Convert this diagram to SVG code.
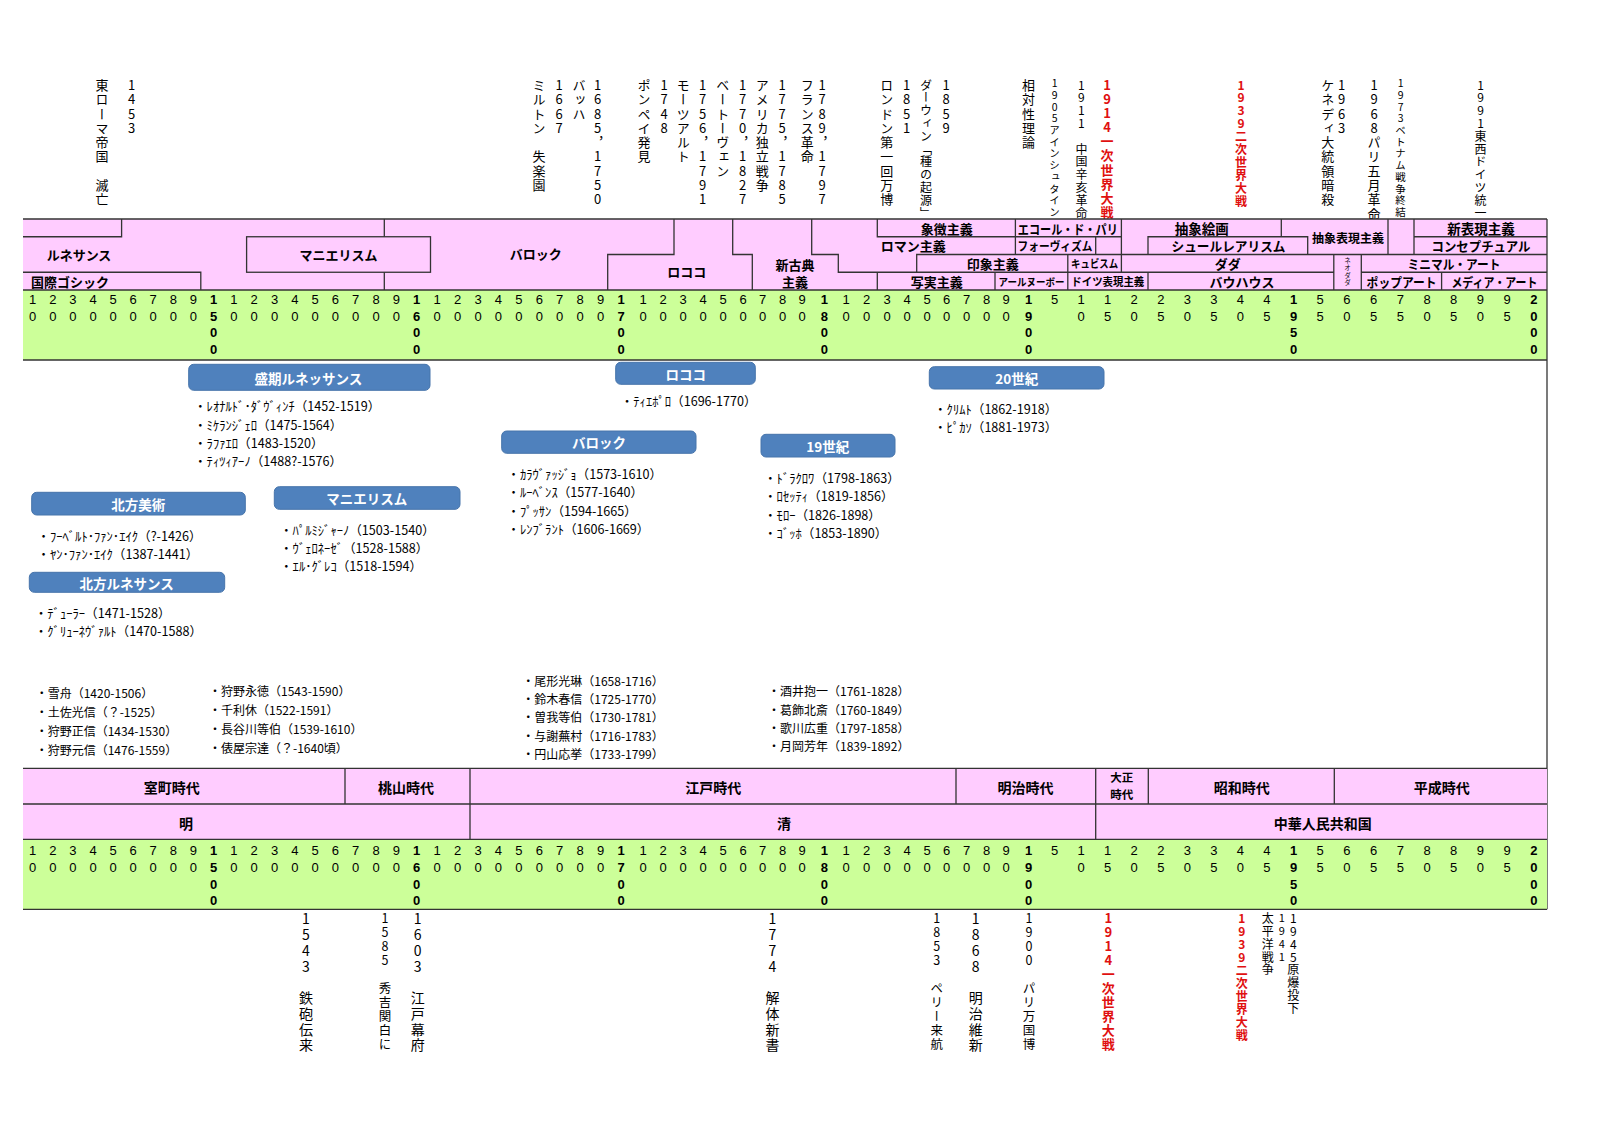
<svg xmlns="http://www.w3.org/2000/svg" xmlns:xlink="http://www.w3.org/1999/xlink" width="1600" height="1131" viewBox="0 0 1600 1131">
<style>
.jp{font-family:"Noto Sans CJK JP","Noto Sans",sans-serif}
.lb{font-family:"Noto Sans CJK JP",sans-serif;font-weight:700;font-size:13px;text-anchor:middle;dominant-baseline:central;fill:#000}
.lb14{font-size:14px}
.tk{font-family:"Liberation Sans",Arial,sans-serif;font-size:13px;text-anchor:middle;dominant-baseline:central;fill:#000}
.tb{font-weight:700}
.v{font-family:"Noto Sans CJK JP",sans-serif;writing-mode:vertical-rl;text-orientation:upright;fill:#000}
.v13{font-size:13px;letter-spacing:1.3px}
.v12{font-size:12px;letter-spacing:0.8px}
.v12b{font-size:12px;letter-spacing:0.9px}
.v10{font-size:10.5px;letter-spacing:1.2px}
.v14{font-size:14px;letter-spacing:1.75px}
.v125{font-size:12.5px;letter-spacing:1.5px}
.red{fill:#e01010;font-weight:700}
.bx{fill:#4f81bd;stroke:#4674ab;stroke-width:1}
.bt{font-family:"Noto Sans CJK JP",sans-serif;font-weight:700;font-size:13.5px;fill:#fff;text-anchor:middle;dominant-baseline:central}
.it{font-family:"Noto Sans CJK JP",sans-serif;font-size:12px;dominant-baseline:central;fill:#000}
.hk{font-size:12.6px}
.ln{stroke:#333;stroke-width:1.3;fill:none}
.pk{fill:#ffccff}
.gr{fill:#ccff99}
</style>
<defs>
<g id="tickcols" class="tk">
<text x="32.7" y="0">1<tspan x="32.7" dy="16.6">0</tspan></text>
<text x="52.8" y="0">2<tspan x="52.8" dy="16.6">0</tspan></text>
<text x="72.9" y="0">3<tspan x="72.9" dy="16.6">0</tspan></text>
<text x="93" y="0">4<tspan x="93" dy="16.6">0</tspan></text>
<text x="113.1" y="0">5<tspan x="113.1" dy="16.6">0</tspan></text>
<text x="133.2" y="0">6<tspan x="133.2" dy="16.6">0</tspan></text>
<text x="153.2" y="0">7<tspan x="153.2" dy="16.6">0</tspan></text>
<text x="173.3" y="0">8<tspan x="173.3" dy="16.6">0</tspan></text>
<text x="193.4" y="0">9<tspan x="193.4" dy="16.6">0</tspan></text>
<text class="tb" x="213.5" y="0">1<tspan x="213.5" dy="16.6">5</tspan><tspan x="213.5" dy="16.6">0</tspan><tspan x="213.5" dy="16.6">0</tspan></text>
<text x="233.8" y="0">1<tspan x="233.8" dy="16.6">0</tspan></text>
<text x="254.1" y="0">2<tspan x="254.1" dy="16.6">0</tspan></text>
<text x="274.5" y="0">3<tspan x="274.5" dy="16.6">0</tspan></text>
<text x="294.8" y="0">4<tspan x="294.8" dy="16.6">0</tspan></text>
<text x="315.1" y="0">5<tspan x="315.1" dy="16.6">0</tspan></text>
<text x="335.4" y="0">6<tspan x="335.4" dy="16.6">0</tspan></text>
<text x="355.7" y="0">7<tspan x="355.7" dy="16.6">0</tspan></text>
<text x="376.1" y="0">8<tspan x="376.1" dy="16.6">0</tspan></text>
<text x="396.4" y="0">9<tspan x="396.4" dy="16.6">0</tspan></text>
<text class="tb" x="416.7" y="0">1<tspan x="416.7" dy="16.6">6</tspan><tspan x="416.7" dy="16.6">0</tspan><tspan x="416.7" dy="16.6">0</tspan></text>
<text x="437.1" y="0">1<tspan x="437.1" dy="16.6">0</tspan></text>
<text x="457.6" y="0">2<tspan x="457.6" dy="16.6">0</tspan></text>
<text x="478" y="0">3<tspan x="478" dy="16.6">0</tspan></text>
<text x="498.4" y="0">4<tspan x="498.4" dy="16.6">0</tspan></text>
<text x="518.9" y="0">5<tspan x="518.9" dy="16.6">0</tspan></text>
<text x="539.3" y="0">6<tspan x="539.3" dy="16.6">0</tspan></text>
<text x="559.7" y="0">7<tspan x="559.7" dy="16.6">0</tspan></text>
<text x="580.1" y="0">8<tspan x="580.1" dy="16.6">0</tspan></text>
<text x="600.6" y="0">9<tspan x="600.6" dy="16.6">0</tspan></text>
<text class="tb" x="621" y="0">1<tspan x="621" dy="16.6">7</tspan><tspan x="621" dy="16.6">0</tspan><tspan x="621" dy="16.6">0</tspan></text>
<text x="643" y="0">1<tspan x="643" dy="16.6">0</tspan></text>
<text x="663" y="0">2<tspan x="663" dy="16.6">0</tspan></text>
<text x="683" y="0">3<tspan x="683" dy="16.6">0</tspan></text>
<text x="703" y="0">4<tspan x="703" dy="16.6">0</tspan></text>
<text x="723" y="0">5<tspan x="723" dy="16.6">0</tspan></text>
<text x="743" y="0">6<tspan x="743" dy="16.6">0</tspan></text>
<text x="762.5" y="0">7<tspan x="762.5" dy="16.6">0</tspan></text>
<text x="782.5" y="0">8<tspan x="782.5" dy="16.6">0</tspan></text>
<text x="802" y="0">9<tspan x="802" dy="16.6">0</tspan></text>
<text class="tb" x="824.3" y="0">1<tspan x="824.3" dy="16.6">8</tspan><tspan x="824.3" dy="16.6">0</tspan><tspan x="824.3" dy="16.6">0</tspan></text>
<text x="846" y="0">1<tspan x="846" dy="16.6">0</tspan></text>
<text x="866.5" y="0">2<tspan x="866.5" dy="16.6">0</tspan></text>
<text x="887" y="0">3<tspan x="887" dy="16.6">0</tspan></text>
<text x="907" y="0">4<tspan x="907" dy="16.6">0</tspan></text>
<text x="927" y="0">5<tspan x="927" dy="16.6">0</tspan></text>
<text x="946.5" y="0">6<tspan x="946.5" dy="16.6">0</tspan></text>
<text x="966.5" y="0">7<tspan x="966.5" dy="16.6">0</tspan></text>
<text x="986.5" y="0">8<tspan x="986.5" dy="16.6">0</tspan></text>
<text x="1006" y="0">9<tspan x="1006" dy="16.6">0</tspan></text>
<text class="tb" x="1028.6" y="0">1<tspan x="1028.6" dy="16.6">9</tspan><tspan x="1028.6" dy="16.6">0</tspan><tspan x="1028.6" dy="16.6">0</tspan></text>
<text x="1054.6" y="0">5</text>
<text x="1081.1" y="0">1<tspan x="1081.1" dy="16.6">0</tspan></text>
<text x="1107.7" y="0">1<tspan x="1107.7" dy="16.6">5</tspan></text>
<text x="1134.2" y="0">2<tspan x="1134.2" dy="16.6">0</tspan></text>
<text x="1160.8" y="0">2<tspan x="1160.8" dy="16.6">5</tspan></text>
<text x="1187.3" y="0">3<tspan x="1187.3" dy="16.6">0</tspan></text>
<text x="1213.8" y="0">3<tspan x="1213.8" dy="16.6">5</tspan></text>
<text x="1240.4" y="0">4<tspan x="1240.4" dy="16.6">0</tspan></text>
<text x="1266.9" y="0">4<tspan x="1266.9" dy="16.6">5</tspan></text>
<text class="tb" x="1293.5" y="0">1<tspan x="1293.5" dy="16.6">9</tspan><tspan x="1293.5" dy="16.6">5</tspan><tspan x="1293.5" dy="16.6">0</tspan></text>
<text x="1320.2" y="0">5<tspan x="1320.2" dy="16.6">5</tspan></text>
<text x="1346.9" y="0">6<tspan x="1346.9" dy="16.6">0</tspan></text>
<text x="1373.6" y="0">6<tspan x="1373.6" dy="16.6">5</tspan></text>
<text x="1400.3" y="0">7<tspan x="1400.3" dy="16.6">5</tspan></text>
<text x="1427" y="0">8<tspan x="1427" dy="16.6">0</tspan></text>
<text x="1453.7" y="0">8<tspan x="1453.7" dy="16.6">5</tspan></text>
<text x="1480.4" y="0">9<tspan x="1480.4" dy="16.6">0</tspan></text>
<text x="1507.1" y="0">9<tspan x="1507.1" dy="16.6">5</tspan></text>
<text class="tb" x="1533.8" y="0">2<tspan x="1533.8" dy="16.6">0</tspan><tspan x="1533.8" dy="16.6">0</tspan><tspan x="1533.8" dy="16.6">0</tspan></text>
</g>
</defs>
<rect width="1600" height="1131" fill="#fff"/>

<!-- top annotations -->
<g id="world-events">
<text class="v v13" x="102" y="78.5">東ローマ帝国　滅亡</text>
<text class="v v13" x="131.6" y="78.5">1453</text>
<text class="v v13" x="539" y="78.5">ミルトン　失楽園</text>
<text class="v v13" x="559" y="78.5">1667</text>
<text class="v v13" x="579" y="78.5">バッハ</text>
<text class="v v13" x="597.7" y="78.5">1685，1750</text>
<text class="v v13" x="644" y="78.5">ポンペイ発見</text>
<text class="v v13" x="664" y="78.5">1748</text>
<text class="v v13" x="683.3" y="78.5">モーツアルト</text>
<text class="v v13" x="702.7" y="78.5">1756，1791</text>
<text class="v v13" x="722.7" y="78.5">ベートーヴェン</text>
<text class="v v13" x="742.7" y="78.5">1770，1827</text>
<text class="v v13" x="762.3" y="78.5">アメリカ独立戦争</text>
<text class="v v13" x="782" y="78.5">1775，1785</text>
<text class="v v13" x="807.3" y="78.5">フランス革命</text>
<text class="v v13" x="822" y="78.5">1789，1797</text>
<text class="v v13" x="886.7" y="78.5">ロンドン第一回万博</text>
<text class="v v13" x="906.7" y="78.5">1851</text>
<text class="v v12" x="926" y="79">ダーウィン「種の起源」</text>
<text class="v v13" x="946" y="78.5">1859</text>
<text class="v v13" x="1028.6" y="78.5">相対性理論</text>
<text class="v v10" x="1054.6" y="78">1905アインシュタイン</text>
<text class="v v12" x="1081.4" y="79">1911　中国辛亥革命</text>
<text class="v v13 red" x="1107" y="78.5" style="letter-spacing:1.1px">1914一次世界大戦</text>
<text class="v v12b red" x="1241" y="79">1939二次世界大戦</text>
<text class="v v13" x="1327.7" y="78.5">ケネディ大統領暗殺</text>
<text class="v v13" x="1341.6" y="78.5">1963</text>
<text class="v v13" x="1374" y="78.5">1968パリ五月革命</text>
<text class="v v10" x="1400.6" y="78">1973ベトナム戦争終結</text>
<text class="v v12" x="1480.5" y="79">1991東西ドイツ統一</text>
</g>

<!-- top art movement band -->
<g id="art-band">
<rect class="pk" x="23" y="219" width="1524" height="71"/>
<rect class="gr" x="23" y="290" width="1524" height="70"/>
<rect class="pk ln" x="246.6" y="236.75" width="183.9" height="35.5"/>
<path class="ln" d="M23 219H1547M23 290H1547M23 360H1547
M23 236.75H121.6V219M384.3 219V236.75M23 272.25H200.8V290M384.3 272.25V290
M674 219V254.5H607.7V290M732.7 219V254.5H752.3V290
M811.7 219V254.5H838.3V272.25H877.3V290
M877.3 219V236.75H1121.4M1015.4 219V254.5
M916.7 272.25V254.5H1547M1095.7 254.5V236.75
M877.3 272.25H1333.8M1361.3 272.25H1547
M995 272.25V290M1067.8 254.5V290M1121.4 219V272.25
M1148 254.5V236.75H1307.7V254.5M1148 272.25V290M1281.3 219V236.75
M1333.8 254.5V290M1361.3 254.5V290
M1388 219V254.5M1414 219V254.5M1414 236.75H1547M1441.6 272.25V290"/>
<text class="lb" x="79" y="254.5">ルネサンス</text>
<text class="lb" x="31" y="281" style="text-anchor:start">国際ゴシック</text>
<text class="lb" x="338.5" y="254.5">マニエリスム</text>
<text class="lb" x="535.7" y="253">バロック</text>
<text class="lb" x="686.7" y="271">ロココ</text>
<text class="lb" x="795" y="264.5">新古典<tspan x="795" dy="16">主義</tspan></text>
<text class="lb" x="946.7" y="228">象徴主義</text>
<text class="lb" x="913.3" y="245.5">ロマン主義</text>
<text class="lb" x="992.8" y="263">印象主義</text>
<text class="lb" x="936.7" y="281">写実主義</text>
<text class="lb" x="1031.5" y="281" style="font-size:10.5px" textLength="66" lengthAdjust="spacingAndGlyphs">アールヌーボー</text>
<text class="lb" x="1067.8" y="228" textLength="100" lengthAdjust="spacingAndGlyphs">エコール・ド・パリ</text>
<text class="lb" x="1055" y="245.5" style="font-size:12px" textLength="75" lengthAdjust="spacingAndGlyphs">フォーヴィズム</text>
<text class="lb" x="1094.6" y="263" style="font-size:11px" textLength="47" lengthAdjust="spacingAndGlyphs">キュビスム</text>
<text class="lb" x="1107.8" y="281" style="font-size:11px" textLength="73" lengthAdjust="spacingAndGlyphs">ドイツ表現主義</text>
<text class="lb" x="1201.7" y="228" style="font-size:13.5px">抽象絵画</text>
<text class="lb" x="1228.5" y="245.5" textLength="114" lengthAdjust="spacingAndGlyphs">シュールレアリスム</text>
<text class="lb" x="1348" y="237" style="font-size:12px">抽象表現主義</text>
<text class="lb" x="1227.8" y="263">ダダ</text>
<text class="lb" x="1242" y="281">バウハウス</text>
<text class="v" x="1347.5" y="257" style="font-size:6.5px;letter-spacing:1px">ネオダダ</text>
<text class="lb" x="1481" y="228" style="font-size:13.5px">新表現主義</text>
<text class="lb" x="1481" y="245.5" textLength="99" lengthAdjust="spacingAndGlyphs">コンセプチュアル</text>
<text class="lb" x="1454" y="263" textLength="93" lengthAdjust="spacingAndGlyphs">ミニマル・アート</text>
<text class="lb" x="1401.6" y="281" textLength="70" lengthAdjust="spacingAndGlyphs">ポップアート</text>
<text class="lb" x="1494.4" y="281" textLength="86" lengthAdjust="spacingAndGlyphs">メディア・アート</text>
<use xlink:href="#tickcols" href="#tickcols" transform="translate(0,299.3)"/>
</g>

<path class="ln" d="M1547 219V909.3"/>

<!-- Western art boxes -->
<g id="high-renaissance">
<rect class="bx" x="188.7" y="364.3" width="241.3" height="26" rx="5"/>
<text class="bt" x="308.3" y="377.5">盛期ルネッサンス</text>
<text class="it hk" x="194" y="405.7">・ﾚｵﾅﾙﾄﾞ･ﾀﾞｳﾞｨﾝﾁ（1452-1519）</text>
<text class="it hk" x="194" y="424">・ﾐｹﾗﾝｼﾞｪﾛ（1475-1564）</text>
<text class="it hk" x="194" y="442.3">・ﾗﾌｧｴﾛ（1483-1520）</text>
<text class="it hk" x="194" y="460.7">・ﾃｨﾂｨｱｰﾉ（1488?-1576）</text>
</g>
<g id="northern-art">
<rect class="bx" x="31.7" y="492.3" width="213.6" height="22.7" rx="5"/>
<text class="bt" x="138.3" y="503.7">北方美術</text>
<text class="it hk" x="37.3" y="535">・ﾌｰﾍﾞﾙﾄ･ﾌｧﾝ･ｴｲｸ（?-1426）</text>
<text class="it hk" x="37.3" y="553.3">・ﾔﾝ･ﾌｧﾝ･ｴｲｸ（1387-1441）</text>
</g>
<g id="northern-renaissance">
<rect class="bx" x="29.3" y="572.3" width="195.4" height="20" rx="5"/>
<text class="bt" x="126.7" y="582.5">北方ルネサンス</text>
<text class="it hk" x="34.7" y="612.3">・ﾃﾞｭｰﾗｰ（1471-1528）</text>
<text class="it hk" x="34.7" y="630.3">・ｸﾞﾘｭｰﾈｳﾞｧﾙﾄ（1470-1588）</text>
</g>
<g id="mannerism">
<rect class="bx" x="274.3" y="486.7" width="185.7" height="22.6" rx="5"/>
<text class="bt" x="366.7" y="498">マニエリスム</text>
<text class="it hk" x="280" y="529">・ﾊﾟﾙﾐｼﾞｬｰﾉ（1503-1540）</text>
<text class="it hk" x="280" y="547.3">・ｳﾞｪﾛﾈｰｾﾞ（1528-1588）</text>
<text class="it hk" x="280" y="565.7">・ｴﾙ･ｸﾞﾚｺ（1518-1594）</text>
</g>
<g id="baroque">
<rect class="bx" x="501.7" y="431" width="194.3" height="22.3" rx="5"/>
<text class="bt" x="599" y="442.2">バロック</text>
<text class="it hk" x="507.3" y="473.3">・ｶﾗｳﾞｧｯｼﾞｮ（1573-1610）</text>
<text class="it hk" x="507.3" y="491.7">・ﾙｰﾍﾞﾝｽ（1577-1640）</text>
<text class="it hk" x="507.3" y="510">・ﾌﾟｯｻﾝ（1594-1665）</text>
<text class="it hk" x="507.3" y="528.3">・ﾚﾝﾌﾞﾗﾝﾄ（1606-1669）</text>
</g>
<g id="rococo">
<rect class="bx" x="615.7" y="362.3" width="139.6" height="22" rx="5"/>
<text class="bt" x="685.7" y="373.5">ロココ</text>
<text class="it hk" x="620.7" y="400.7">・ﾃｨｴﾎﾟﾛ（1696-1770）</text>
</g>
<g id="c19">
<rect class="bx" x="761" y="434.3" width="134" height="22.7" rx="5"/>
<text class="bt" x="827.7" y="445.7">19世紀</text>
<text class="it hk" x="764" y="477.3">・ﾄﾞﾗｸﾛﾜ（1798-1863）</text>
<text class="it hk" x="764" y="495.7">・ﾛｾｯﾃｨ（1819-1856）</text>
<text class="it hk" x="764" y="514">・ﾓﾛｰ（1826-1898）</text>
<text class="it hk" x="764" y="532.3">・ｺﾞｯﾎ（1853-1890）</text>
</g>
<g id="c20">
<rect class="bx" x="929.3" y="366.7" width="174.7" height="22.3" rx="5"/>
<text class="bt" x="1016.7" y="378">20世紀</text>
<text class="it hk" x="934" y="408.3">・ｸﾘﾑﾄ（1862-1918）</text>
<text class="it hk" x="934" y="426.7">・ﾋﾟｶｿ（1881-1973）</text>
</g>

<!-- Japanese artists -->
<g id="jp-muromachi">
<text class="it" x="35.7" y="692.3">・雪舟（1420-1506）</text>
<text class="it" x="35.7" y="711.3">・土佐光信（？-1525）</text>
<text class="it" x="35.7" y="730.3">・狩野正信（1434-1530）</text>
<text class="it" x="35.7" y="749.3">・狩野元信（1476-1559）</text>
</g>
<g id="jp-momoyama">
<text class="it" x="209" y="690.5">・狩野永徳（1543-1590）</text>
<text class="it" x="209" y="709.5">・千利休（1522-1591）</text>
<text class="it" x="209" y="728.5">・長谷川等伯（1539-1610）</text>
<text class="it" x="209" y="747.5">・俵屋宗達（？-1640頃）</text>
</g>
<g id="jp-edo1">
<text class="it" x="522.3" y="680">・尾形光琳（1658-1716）</text>
<text class="it" x="522.3" y="698.3">・鈴木春信（1725-1770）</text>
<text class="it" x="522.3" y="716.7">・曽我等伯（1730-1781）</text>
<text class="it" x="522.3" y="735">・与謝蕪村（1716-1783）</text>
<text class="it" x="522.3" y="753.3">・円山応挙（1733-1799）</text>
</g>
<g id="jp-edo2">
<text class="it" x="768" y="690.7">・酒井抱一（1761-1828）</text>
<text class="it" x="768" y="709">・葛飾北斎（1760-1849）</text>
<text class="it" x="768" y="727">・歌川広重（1797-1858）</text>
<text class="it" x="768" y="745">・月岡芳年（1839-1892）</text>
</g>

<!-- bottom period band -->
<g id="period-band">
<rect class="pk" x="23" y="768.3" width="1524" height="71"/>
<rect class="gr" x="23" y="839.3" width="1524" height="70"/>
<path class="ln" d="M23 768.3H1547M23 804H1547M23 839.3H1547M23 909.3H1547
M345 768.3V804M470 768.3V839.3M956 768.3V804M1095.7 768.3V839.3M1148.3 768.3V804M1334.3 768.3V804"/>
<text class="lb lb14" x="171.7" y="786.5">室町時代</text>
<text class="lb lb14" x="406" y="786.5">桃山時代</text>
<text class="lb lb14" x="713.3" y="786.5">江戸時代</text>
<text class="lb lb14" x="1025.5" y="786.5">明治時代</text>
<text class="lb" x="1121.7" y="777" style="font-size:11.5px">大正</text>
<text class="lb" x="1121.7" y="794.3" style="font-size:11.5px">時代</text>
<text class="lb lb14" x="1241.7" y="786.5">昭和時代</text>
<text class="lb lb14" x="1441.7" y="786.5">平成時代</text>
<text class="lb lb14" x="186" y="823">明</text>
<text class="lb lb14" x="784" y="823">清</text>
<text class="lb lb14" x="1322.7" y="822.7">中華人民共和国</text>
<use xlink:href="#tickcols" href="#tickcols" transform="translate(0,850.5)"/>
</g>

<!-- bottom annotations -->
<g id="jp-events">
<text class="v v14" x="306" y="912">1543　鉄砲伝来</text>
<text class="v v125" x="385" y="912">1585　秀吉関白に</text>
<text class="v v14" x="417.7" y="912">1603　江戸幕府</text>
<text class="v v14" x="772.5" y="912">1774　解体新書</text>
<text class="v v125" x="936.7" y="912">1853　ペリー来航</text>
<text class="v v14" x="975.7" y="912">1868　明治維新</text>
<text class="v v125" x="1029" y="912">1900　パリ万国博</text>
<text class="v red" x="1108.3" y="911.8" style="font-size:13px;letter-spacing:1px">1914一次世界大戦</text>
<text class="v red" x="1241.7" y="912.3" style="font-size:12px;letter-spacing:1px">1939二次世界大戦</text>
<text class="v v12b" x="1267.7" y="912.3">太平洋戦争</text>
<text class="v" x="1281.7" y="912.8" style="font-size:11px;letter-spacing:1.9px">1941</text>
<text class="v v12b" x="1293.3" y="912.3">1945原爆投下</text>
</g>
</svg>
